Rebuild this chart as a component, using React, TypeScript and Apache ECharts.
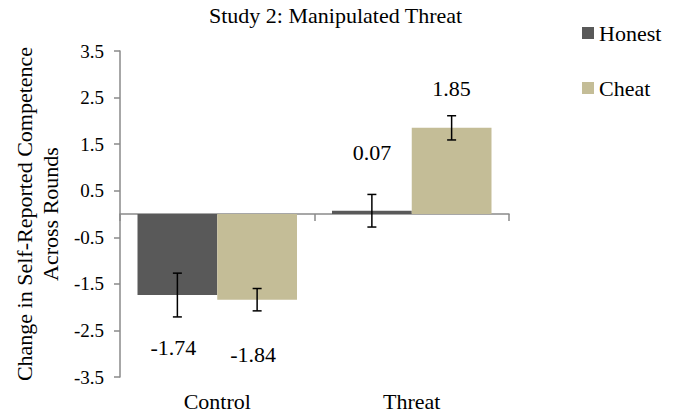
import React, { useEffect, useRef } from "react";
import * as echarts from "echarts";

const categories = ["Control", "Threat"];
const seriesNames = ["Honest", "Cheat"];
const honestMeans = [-1.74, 0.07];
const cheatMeans = [-1.84, 1.85];
const honestErrors = [0.47, 0.35];
const cheatErrors = [0.24, 0.26];
const yTicks = [-3.5, -2.5, -1.5, -0.5, 0.5, 1.5, 2.5, 3.5];

const FONT = "'Liberation Serif', 'Times New Roman', serif";
const COLORS = ["#595959", "#C4BD97"];
const AXIS_COLOR = "#8a8a8a";
const CATEGORY_GAP = 0.18;

export default function App() {
  const ref = useRef<HTMLDivElement>(null);

  useEffect(() => {
    if (!ref.current) return;
    const chart = echarts.init(ref.current, undefined, { renderer: "svg" });

    const labelDist = [
      [41, 47],
      [44, 28],
    ];

    const makeBarData = (means: number[], s: number) =>
      means.map((v, i) => ({
        value: v,
        label: {
          position: v < 0 ? "bottom" : "top",
          distance: labelDist[s][i],
          offset: v < 0 ? [-4, 0] : [0, 0],
        },
      }));

    const errData: number[][] = [];
    [honestMeans, cheatMeans].forEach((means, s) => {
      const errs = s === 0 ? honestErrors : cheatErrors;
      means.forEach((m, i) => errData.push([i, m, errs[i], s]));
    });

    const option: any = {
      animation: false,
      backgroundColor: "#ffffff",
      textStyle: { fontFamily: FONT },
      title: {
        text: "Study 2: Manipulated Threat",
        left: 209,
        top: 4,
        padding: 0,
        textStyle: { fontFamily: FONT, fontSize: 22, fontWeight: "normal", color: "#000" },
      },
      legend: {
        orient: "vertical",
        left: 582,
        top: 22,
        padding: 0,
        itemWidth: 12,
        itemHeight: 12,
        itemGap: 33,
        icon: "rect",
        data: seriesNames,
        textStyle: { fontFamily: FONT, fontSize: 22, color: "#000" },
      },
      grid: { left: 120, right: 170, top: 51, bottom: 41, containLabel: false, outerBoundsMode: "none" },
      xAxis: [
        {
          type: "category",
          data: categories,
          position: "bottom",
          axisLine: { show: false, onZero: false },
          axisTick: { show: false },
          axisLabel: { margin: 13, fontFamily: FONT, fontSize: 22, color: "#000" },
          splitLine: { show: false },
        },
        {
          type: "category",
          data: categories,
          position: "bottom",
          axisLine: { show: true, onZero: true, lineStyle: { color: AXIS_COLOR, width: 1.5 } },
          axisTick: { show: true, alignWithLabel: false, length: 7, lineStyle: { color: AXIS_COLOR, width: 1.5 } },
          axisLabel: { show: false },
          splitLine: { show: false },
        },
      ],
      yAxis: {
        type: "value",
        min: -3.5,
        max: 3.5,
        name: "Change in Self-Reported Competence\nAcross Rounds",
        nameLocation: "middle",
        nameGap: 57,
        nameTextStyle: { fontFamily: FONT, fontSize: 22, color: "#000", lineHeight: 26 },
        axisLine: { show: true, lineStyle: { color: AXIS_COLOR, width: 1.5 } },
        axisTick: { show: true, length: 6, customValues: yTicks, lineStyle: { color: AXIS_COLOR, width: 1.5 } },
        axisLabel: {
          customValues: yTicks,
          margin: 16,
          fontFamily: FONT,
          fontSize: 19,
          color: "#000",
          formatter: (v: number) => String(v),
        },
        splitLine: { show: false },
      },
      series: [
        ...[honestMeans, cheatMeans].map((means, s) => ({
          name: seriesNames[s],
          type: "bar",
          xAxisIndex: 0,
          data: makeBarData(means, s),
          barGap: "0%",
          barCategoryGap: CATEGORY_GAP * 100 + "%",
          itemStyle: { color: COLORS[s] },
          label: {
            show: true,
            fontFamily: FONT,
            fontSize: 22,
            color: "#000",
            formatter: (p: any) => p.value.toFixed(2),
          },
        })),
        {
          type: "custom",
          name: "errors",
          xAxisIndex: 0,
          data: errData,
          z: 10,
          renderItem: (params: any, api: any) => {
            const cat = api.value(0);
            const mean = api.value(1);
            const err = api.value(2);
            const s = api.value(3);
            const band = api.size([1, 0])[0];
            const barW = (band * (1 - CATEGORY_GAP)) / 2;
            const center = api.coord([cat, mean]);
            const x = center[0] + (s === 0 ? -barW / 2 : barW / 2);
            const yHi = api.coord([cat, mean + err])[1];
            const yLo = api.coord([cat, mean - err])[1];
            const cap = 4.5;
            const style = { stroke: "#000", lineWidth: 1.5 };
            return {
              type: "group",
              children: [
                { type: "line", shape: { x1: x, y1: yHi, x2: x, y2: yLo }, style },
                { type: "line", shape: { x1: x - cap, y1: yHi, x2: x + cap, y2: yHi }, style },
                { type: "line", shape: { x1: x - cap, y1: yLo, x2: x + cap, y2: yLo }, style },
              ],
            };
          },
        },
      ],
    };

    chart.setOption(option);
    return () => chart.dispose();
  }, []);

  return <div ref={ref} style={{ width: 679, height: 418, position: "absolute", left: 0, top: 0 }} />;
}
